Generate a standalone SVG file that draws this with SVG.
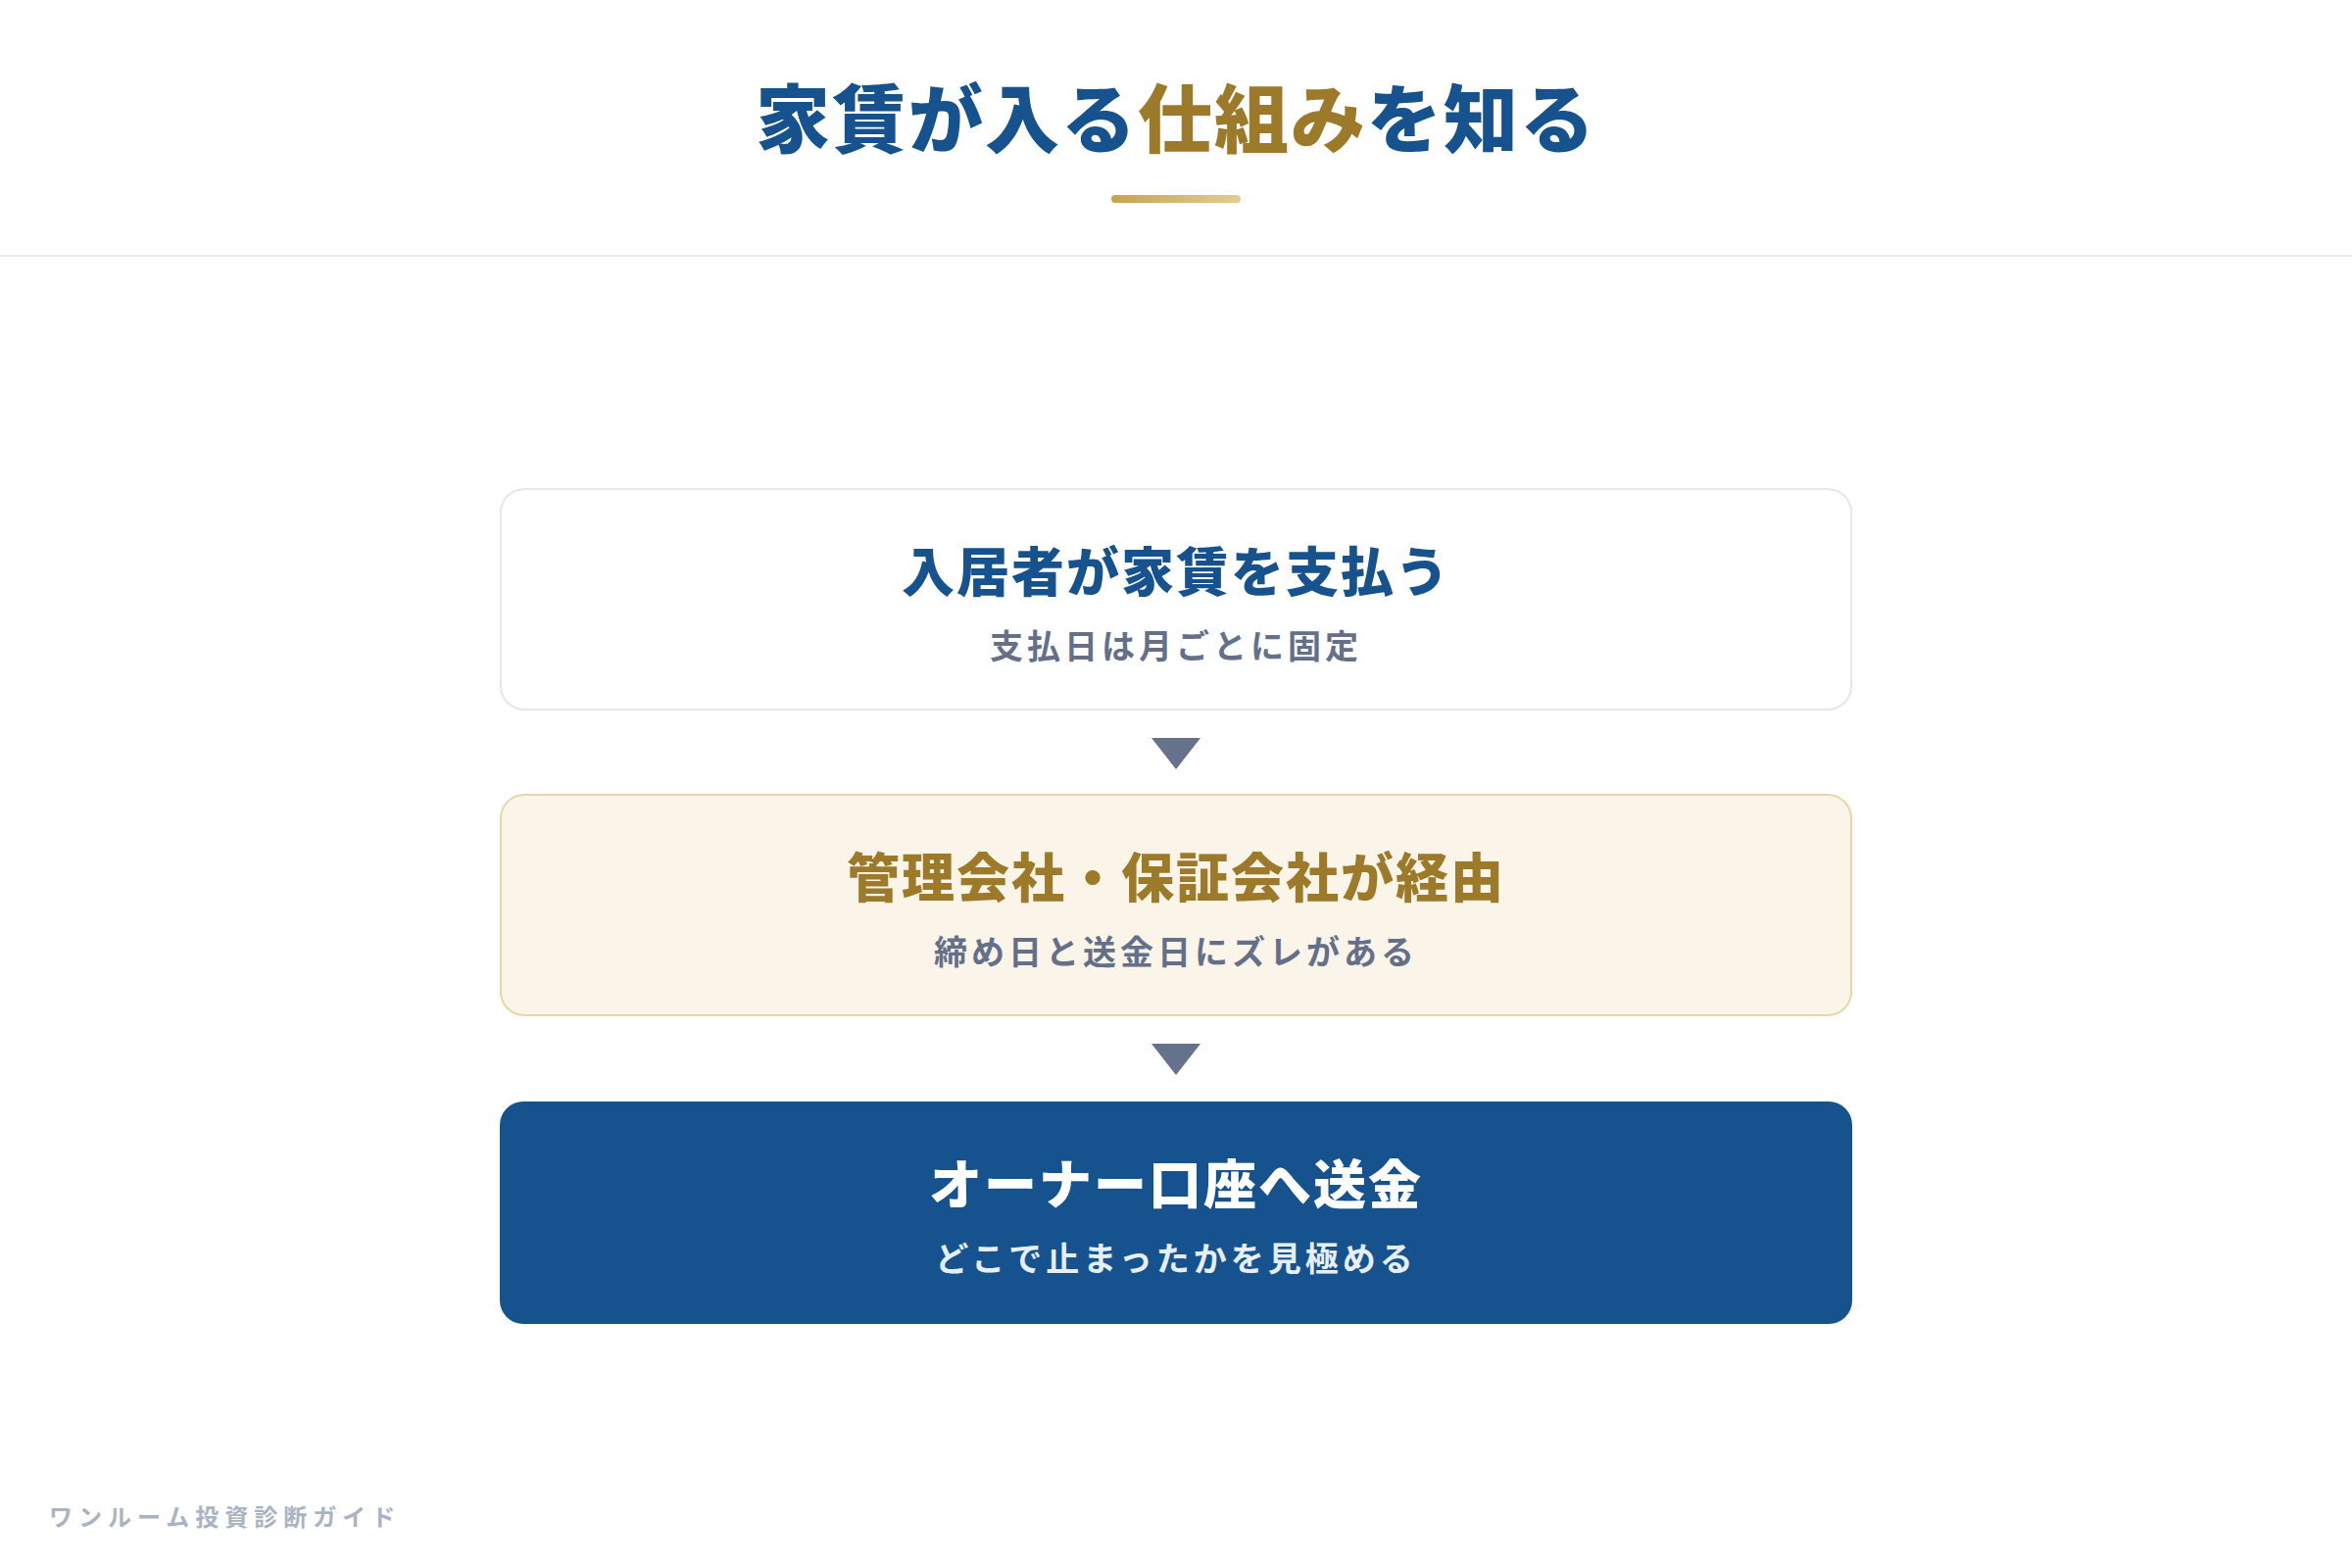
<svg xmlns="http://www.w3.org/2000/svg" width="2400" height="1600" viewBox="0 0 2400 1600">
<defs>
<linearGradient id="gold" x1="0" y1="0" x2="1" y2="0">
<stop offset="0" stop-color="#c5a44e"/>
<stop offset="1" stop-color="#e3cd8f"/>
</linearGradient>
<style>
text{font-family:"Noto Sans CJK JP","Noto Sans",sans-serif;text-anchor:middle}
.h{font-size:76px;font-weight:900;letter-spacing:2px}
.t{font-size:54px;font-weight:900;letter-spacing:2px}
.s{font-size:34px;font-weight:700;letter-spacing:4px}
.blue{fill:#16528e}
.gold{fill:#9c7a2a}
.grey{fill:#64708a}
.arrow{fill:#66728c}
</style>
</defs>
<rect width="2400" height="1600" fill="#ffffff"/>
<g id="header">
<text class="h" x="1200" y="150"><tspan class="blue">家賃が入る</tspan><tspan class="gold">仕組み</tspan><tspan class="blue">を知る</tspan></text>
<rect x="1134" y="199" width="132" height="8" rx="4" fill="url(#gold)"/>
<rect x="0" y="260" width="2400" height="2" fill="#e9eaec"/>
</g>
<g id="node1">
<rect x="511" y="499" width="1378" height="225" rx="24" fill="#ffffff" stroke="#e5e7eb" stroke-width="2"/>
<text class="t blue" x="1200" y="604">入居者が家賃を支払う</text>
<text class="s grey" x="1200" y="672">支払日は月ごとに固定</text>
</g>
<g id="node2">
<rect x="511" y="811" width="1378" height="225" rx="24" fill="#faf5e8" stroke="#e8d6a6" stroke-width="2"/>
<text class="t gold" x="1200" y="916">管理会社・保証会社が経由</text>
<text class="s grey" x="1200" y="984">締め日と送金日にズレがある</text>
</g>
<g id="node3">
<rect x="510" y="1124" width="1380" height="227" rx="24" fill="#16528e"/>
<text class="t" x="1200" y="1229" fill="#ffffff">オーナー口座へ送金</text>
<text class="s" x="1200" y="1297" fill="#e6eef8">どこで止まったかを見極める</text>
</g>
<g id="connectors">
<polygon class="arrow" points="1175,753 1225,753 1200,785"/>
<polygon class="arrow" points="1175,1065 1225,1065 1200,1097"/>
</g>
<g id="footer">
<text x="50" y="1557" style="text-anchor:start;font-size:24px;font-weight:700;letter-spacing:6px" fill="#aab3c2">ワンルーム投資診断ガイド</text>
</g>
</svg>
